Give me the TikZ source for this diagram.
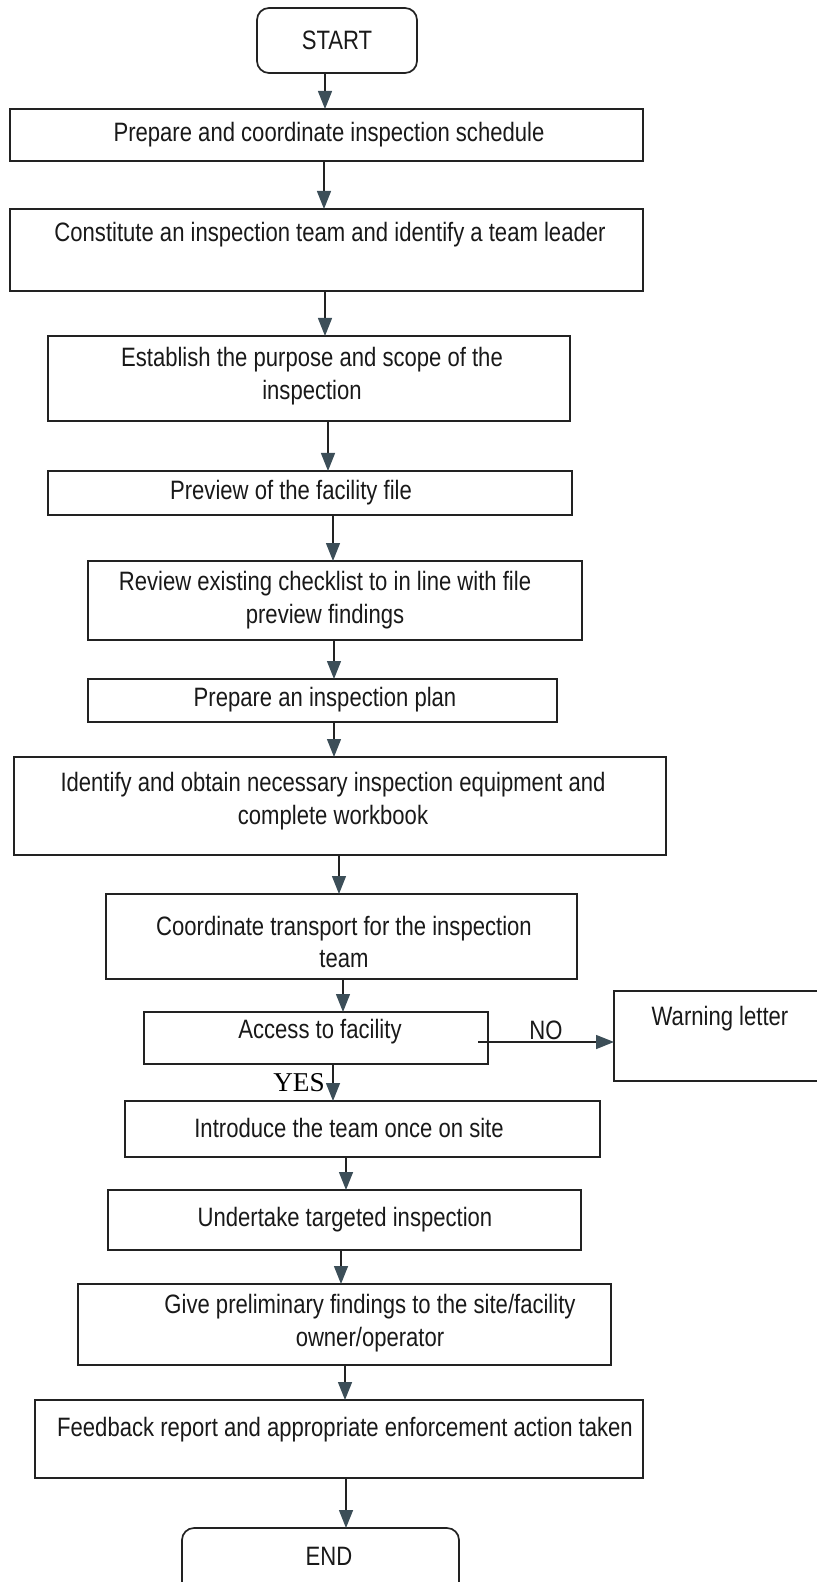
\documentclass[tikz,border=0pt]{standalone}
\usepackage{fontspec}
\setmainfont{Liberation Sans}[FakeStretch=0.83]
\newfontfamily\yesfont{Liberation Serif}
\usetikzlibrary{arrows.meta}
\definecolor{linec}{HTML}{222222}
\definecolor{arrc}{HTML}{3C4E58}
\begin{document}
\begin{tikzpicture}[x=0.5pt,y=-0.5pt,
  box/.style 2 args={draw=linec, line width=0.85pt, inner sep=0pt, outer sep=0pt,
     minimum width=#1*0.5pt, minimum height=#2*0.5pt},
  rbox/.style 2 args={box={#1}{#2}, rounded corners=6pt},
  txt/.style={inner sep=0pt, align=center, font=\fontsize{13.3pt}{16.2pt}\selectfont, text=black!90},
  arr/.style={draw=linec, line width=0.7pt, -{Triangle[length=9pt,width=7pt,color=arrc]}}]
\clip (0,0) rectangle (817,1582);
\fill[white] (0,0) rectangle (817,1582);
% boxes
\node[rbox={160}{65}] (s) at (337,40.5) {};
\node[box={633}{52}] (b1) at (326.5,135) {};
\node[box={633}{82}] (b2) at (326.5,250) {};
\node[box={522}{85}] (b3) at (309,378.5) {};
\node[box={524}{44}] (b4) at (310,493) {};
\node[box={494}{79}] (b5) at (335,600.5) {};
\node[box={469}{43}] (b6) at (322.5,700.5) {};
\node[box={652}{98}] (b7) at (340,806) {};
\node[box={471}{85}] (b8) at (341.5,936.5) {};
\node[box={344}{52}] (b9) at (316,1038) {};
\node[box={216}{90}] (wl) at (722,1036) {};
\node[box={475}{56}] (b10) at (362.5,1129) {};
\node[box={473}{60}] (b11) at (344.5,1220) {};
\node[box={533}{81}] (b12) at (344.5,1324.5) {};
\node[box={608}{78}] (b13) at (339,1439) {};
\node[rbox={277}{72}] (e) at (320.5,1564) {};
% texts
\node[txt] (ts) at (337,40) {START};
\node[txt] (t1) at (329,135) {Prepare and coordinate inspection schedule};
\node[txt] (t2) at (330,235) {Constitute an inspection team and identify a team leader};
\node[txt] (t3) at (312,376) {Establish the purpose and scope of the\\inspection};
\node[txt] (t4) at (291,493) {Preview of the facility file};
\node[txt] (t5) at (325,600) {Review existing checklist to in line with file\\preview findings};
\node[txt] (t6) at (325,700) {Prepare an inspection plan};
\node[txt] (t7) at (333,801) {Identify and obtain necessary inspection equipment and\\complete workbook};
\node[txt] (t8) at (344,942) {Coordinate transport for the inspection\\team};
\node[txt] (t9) at (320,1032) {Access to facility};
\node[txt] (twl) at (720,1019) {Warning letter};
\node[txt] (t10) at (349,1128) {Introduce the team once on site};
\node[txt] (t11) at (345,1220) {Undertake targeted inspection};
\node[txt] (t12) at (370,1323) {Give preliminary findings to the site/facility\\owner/operator};
\node[txt] (t13) at (345,1430) {Feedback report and appropriate enforcement action taken};
\node[txt] (te) at (329,1556) {END};
% connector columns
\coordinate (a1) at (325,0);
\coordinate (a2) at (324,0);
\coordinate (a3) at (325,0);
\coordinate (a4) at (328,0);
\coordinate (a5) at (333,0);
\coordinate (a6) at (334,0);
\coordinate (a7) at (334,0);
\coordinate (a8) at (339,0);
\coordinate (a9) at (343,0);
\coordinate (a10) at (333,0);
\coordinate (a11) at (346,0);
\coordinate (a12) at (341,0);
\coordinate (a13) at (345,0);
\coordinate (a14) at (346,0);
\draw[arr] (s.south -| a1) -- (b1.north -| a1);
\draw[arr] (b1.south -| a2) -- (b2.north -| a2);
\draw[arr] (b2.south -| a3) -- (b3.north -| a3);
\draw[arr] (b3.south -| a4) -- (b4.north -| a4);
\draw[arr] (b4.south -| a5) -- (b5.north -| a5);
\draw[arr] (b5.south -| a6) -- (b6.north -| a6);
\draw[arr] (b6.south -| a7) -- (b7.north -| a7);
\draw[arr] (b7.south -| a8) -- (b8.north -| a8);
\draw[arr] (b8.south -| a9) -- (b9.north -| a9);
\draw[arr] (b9.south -| a10) -- (b10.north -| a10);
\draw[arr] (b10.south -| a11) -- (b11.north -| a11);
\draw[arr] (b11.south -| a12) -- (b12.north -| a12);
\draw[arr] (b12.south -| a13) -- (b13.north -| a13);
\draw[arr] (b13.south -| a14) -- (e.north -| a14);
% NO branch
\coordinate (nostart) at (478,1042);
\draw[arr] (nostart) -- (wl.west |- nostart);
\node[txt, font=\fontsize{13.3pt}{16pt}\selectfont] (no) at (546,1030) {NO};
\node[inner sep=0pt, font=\yesfont\fontsize{13.6pt}{16pt}\selectfont] (yes) at (299,1083) {YES};
\end{tikzpicture}
\end{document}
